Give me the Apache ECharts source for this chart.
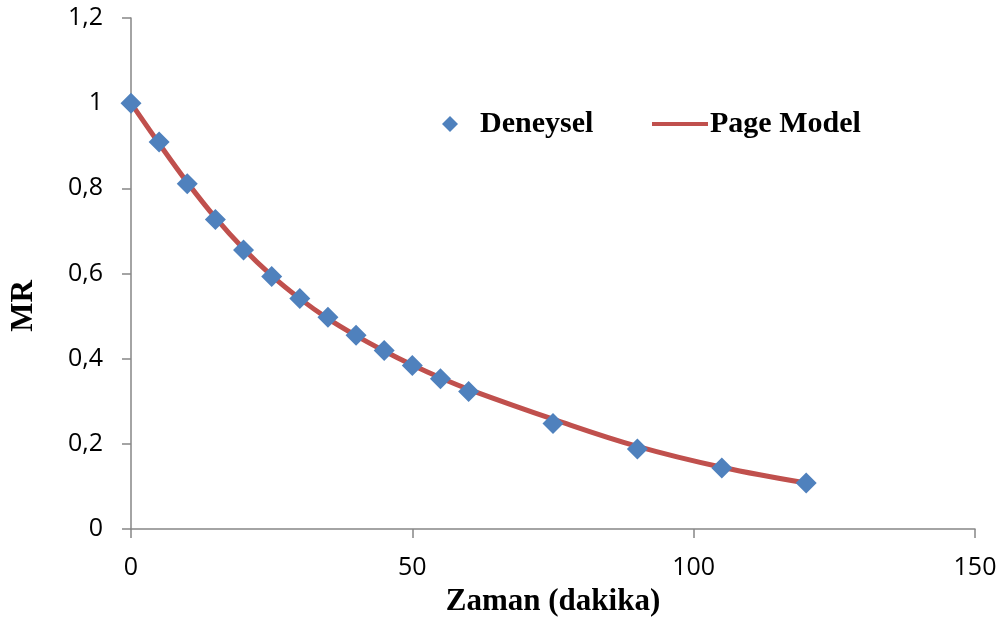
<!DOCTYPE html>
<html><head><meta charset="utf-8">
<script src="https://cdn.jsdelivr.net/npm/echarts@6/dist/echarts.min.js"></script>
<style>html,body{margin:0;padding:0;background:#fff}#c{width:1007px;height:640px}</style>
</head><body><div id="c"></div>
<script>
var times = [0, 5, 10, 15, 20, 25, 30, 35, 40, 45, 50, 55, 60, 75, 90, 105, 120];
var deneysel = [1.0, 0.909, 0.811, 0.727, 0.655, 0.593, 0.541, 0.497, 0.455, 0.419, 0.384, 0.353, 0.323, 0.248, 0.188, 0.143, 0.108];
var pageModel = [1.0, 0.905, 0.814, 0.731, 0.658, 0.595, 0.541, 0.494, 0.454, 0.418, 0.385, 0.355, 0.328, 0.258, 0.194, 0.145, 0.108];
var xTicks = [0, 50, 100, 150];
var yTicks = [0, 0.2, 0.4, 0.6, 0.8, 1, 1.2];

function pairs(xs, ys){ return xs.map(function(x,i){ return [x, ys[i]]; }); }

var chart = echarts.init(document.getElementById('c'), null, {renderer:'canvas'});
var axisColor = '#868686';
var serif = 'Liberation Serif';
chart.setOption({
  animation: false,
  backgroundColor: '#ffffff',
  grid: {left: 131, right: 32, top: 18, bottom: 111},
  legend: [
    {data: [{name: 'Deneysel', icon: 'diamond'}], left: 437, top: 104, itemWidth: 16, itemHeight: 16,
     textStyle: {fontFamily: serif, fontWeight: 'bold', fontSize: 30, color: '#000', padding: [0,0,0,17]}},
    {data: [{name: 'Page Model', icon: 'rect'}], left: 647, top: 104, itemWidth: 56, itemHeight: 4,
     textStyle: {fontFamily: serif, fontWeight: 'bold', fontSize: 30, color: '#000', padding: [0,0,0,-3]}}
  ],
  graphic: [
    {type: 'text', left: 8, top: 280, rotation: Math.PI/2, style: {text: 'MR', font: 'bold 31px "Liberation Serif"', fill: '#000'}}
  ],
  xAxis: {
    type: 'value', min: 0, max: 150, interval: 50,
    name: 'Zaman (dakika)', nameLocation: 'middle', nameGap: 57,
    nameTextStyle: {fontFamily: serif, fontWeight: 'bold', fontSize: 31, color: '#000'},
    axisLine: {show: true, lineStyle: {color: axisColor, width: 1.5}},
    axisTick: {show: true, length: 9, lineStyle: {color: axisColor, width: 1.5}},
    splitLine: {show: false},
    axisLabel: {fontFamily: 'Open Sans', fontSize: 25, color: '#000', margin: 26,
      formatter: function(v){ return xTicks.indexOf(v) >= 0 ? String(v) : ''; }}
  },
  yAxis: {
    type: 'value', min: 0, max: 1.2, interval: 0.2,
    axisLine: {show: true, lineStyle: {color: axisColor, width: 1.5}},
    axisTick: {show: true, length: 9, lineStyle: {color: axisColor, width: 1.5}},
    splitLine: {show: false},
    axisLabel: {fontFamily: 'Open Sans', fontSize: 25, color: '#000', margin: 28,
      formatter: function(v){
        var r = Math.round(v*10)/10;
        return yTicks.indexOf(r) >= 0 ? String(r).replace('.', ',') : '';
      }}
  },
  series: [
    {name: 'Page Model', type: 'line', data: pairs(times, pageModel), smooth: 0.4,
     showSymbol: false, symbol: 'none', z: 2,
     lineStyle: {color: '#C0504D', width: 5}, itemStyle: {color: '#C0504D'}},
    {name: 'Deneysel', type: 'scatter', data: pairs(times, deneysel),
     symbol: 'diamond', symbolSize: [21, 21], z: 3,
     itemStyle: {color: '#4F81BD', opacity: 1}}
  ]
});
</script></body></html>
